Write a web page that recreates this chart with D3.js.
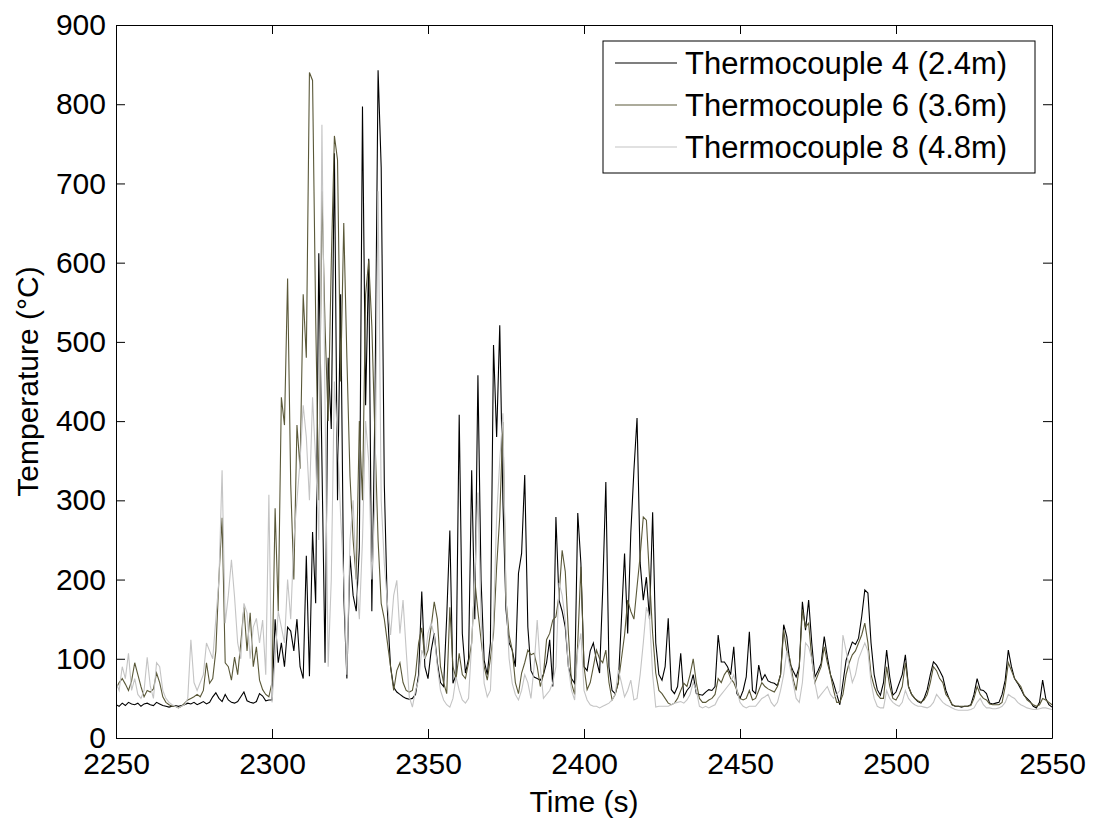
<!DOCTYPE html>
<html>
<head>
<meta charset="utf-8">
<script src="https://cdn.jsdelivr.net/npm/d3@7"></script>
<style>
  body { margin: 0; background: #fff; }
  text { font-family: Arial, "Liberation Sans", sans-serif; fill: #000; }
</style>
</head>
<body>
<script>
// sampled once per second from t0
var t0 = 2250;

var seriesNames = ["Thermocouple 4 (2.4m)", "Thermocouple 6 (3.6m)", "Thermocouple 8 (4.8m)"];
var seriesColors = ["#000000", "#5a5838", "#c4c4c4"];

var xTicks = [2250, 2300, 2350, 2400, 2450, 2500, 2550];
var yTicks = [0, 100, 200, 300, 400, 500, 600, 700, 800, 900];

var tc4 = [
  42,40,44,41,45,43,42,44,40,43,     // 2250
  44,42,41,45,43,41,40,39,40,41,     // 2260
  40,41,42,44,43,45,42,44,46,43,     // 2270
  45,52,57,50,46,55,48,45,44,46,     // 2280
  52,58,47,45,44,46,56,53,47,48,     // 2290
  48,150,95,120,90,140,135,110,150,90,   // 2300
  75,230,78,260,170,612,350,95,480,390,  // 2310
  738,300,560,180,75,230,180,160,240,797, // 2320
  420,605,160,420,843,720,320,160,90,64, // 2330
  58,55,52,50,49,50,55,80,185,90,    // 2340
  75,110,132,95,70,65,153,262,69,80, // 2350
  408,132,82,100,338,150,458,200,98,80, // 2360
  120,496,380,521,300,162,120,111,90,208, // 2370
  233,332,140,85,77,75,73,80,95,124, // 2380
  65,279,174,160,140,90,75,69,284,221, // 2390
  90,85,110,120,98,82,187,323,90,60, // 2400
  56,70,150,233,132,259,338,404,221,174, // 2410
  203,150,285,120,80,73,90,151,61,56, // 2420
  65,107,52,60,65,80,56,55,54,58,    // 2430
  61,60,65,130,96,96,90,80,115,56,   // 2440
  50,60,77,134,60,56,92,73,80,72,    // 2450
  70,69,66,80,143,128,94,85,77,90,   // 2460
  172,136,174,120,77,85,94,128,102,80, // 2470
  69,55,42,70,98,110,121,118,126,153, // 2480
  187,183,120,80,61,54,70,111,77,54, // 2490
  58,69,80,105,65,55,50,46,44,50,    // 2500
  61,80,96,92,85,77,60,50,42,40,     // 2510
  40,39,40,40,42,55,75,61,60,56,     // 2520
  44,43,44,45,55,73,111,90,75,69,    // 2530
  62,54,50,46,40,38,45,73,50,42,     // 2540
  39                                 // 2550
];

var tc6 = [
  62,70,75,68,60,72,95,80,65,52,     // 2250
  60,58,62,82,70,52,45,42,40,40,     // 2260
  38,40,44,48,50,52,55,52,60,95,     // 2270
  69,75,110,203,278,95,90,73,102,80, // 2280
  120,165,110,158,90,115,73,61,55,52, // 2290
  70,290,160,430,395,580,320,200,395,340, // 2300
  560,480,840,830,530,300,690,520,400,600, // 2310
  760,730,450,650,480,330,250,200,400,300, // 2320
  560,603,520,380,250,170,150,120,90,60, // 2330
  85,95,70,60,58,60,80,120,139,100,  // 2340
  111,140,172,150,90,70,56,165,90,75, // 2350
  107,80,75,95,120,199,160,124,90,73, // 2360
  100,132,216,280,399,174,130,111,70,56, // 2370
  82,95,111,105,107,90,65,80,124,132, // 2380
  149,153,180,237,210,132,69,55,120,216, // 2390
  90,61,70,90,111,100,95,111,70,48,  // 2400
  55,70,100,130,174,160,150,191,230,279, // 2410
  275,203,132,82,60,56,50,44,42,44,  // 2420
  50,60,69,65,80,100,70,50,45,45,    // 2430
  48,50,55,75,70,80,86,75,70,60,     // 2440
  50,48,50,60,48,50,60,70,65,62,     // 2450
  60,58,65,80,136,110,100,75,60,90,  // 2460
  162,140,145,100,70,80,90,115,95,80, // 2470
  60,45,45,55,80,95,105,110,120,130, // 2480
  145,120,80,65,55,50,50,90,65,50,   // 2490
  48,55,65,95,65,55,50,47,45,48,     // 2500
  55,70,90,85,75,70,55,50,42,40,     // 2510
  40,40,40,40,41,50,65,55,50,48,     // 2520
  43,42,42,42,45,65,95,85,75,70,     // 2530
  65,55,48,45,42,40,42,50,48,45,     // 2540
  42                                 // 2550
];

var tc8 = [
  70,60,90,75,107,60,75,55,50,60,    // 2250
  102,65,50,95,90,60,50,45,42,40,    // 2260
  38,40,42,50,124,70,60,70,80,120,   // 2270
  110,100,150,200,338,145,180,225,178,120, // 2280
  100,170,158,100,140,151,120,149,80,307, // 2290
  45,100,160,140,120,200,150,250,300,350, // 2300
  420,380,300,430,350,250,774,420,90,200, // 2310
  450,380,280,200,80,250,300,200,150,250, // 2320
  400,350,200,300,690,300,220,170,130,180, // 2330
  199,132,174,111,52,39,60,73,111,100, // 2340
  132,145,130,90,60,48,42,39,50,77,  // 2350
  60,48,44,50,120,199,310,150,69,52, // 2360
  60,150,279,350,410,180,100,69,55,48, // 2370
  60,80,70,50,90,149,90,50,55,60,    // 2380
  70,90,196,180,149,90,60,48,111,132, // 2390
  60,48,42,40,40,38,40,42,44,48,     // 2400
  55,86,70,52,60,73,48,50,80,120,    // 2410
  165,153,80,39,40,40,40,40,42,44,   // 2420
  45,46,44,48,55,70,60,40,38,40,     // 2430
  38,40,42,50,55,60,65,70,80,60,     // 2440
  45,40,38,40,40,40,45,50,52,55,     // 2450
  45,40,45,60,80,110,90,70,50,45,    // 2460
  70,120,115,100,70,50,55,60,65,55,  // 2470
  50,55,60,130,110,90,70,80,100,110, // 2480
  120,110,70,50,40,38,38,60,50,45,   // 2490
  42,40,45,60,50,45,42,40,40,39,     // 2500
  38,40,45,55,50,45,42,40,38,36,     // 2510
  35,35,35,35,36,38,45,50,42,38,     // 2520
  38,37,37,38,40,45,55,52,50,45,     // 2530
  42,40,38,37,36,36,37,38,38,37,     // 2540
  36                                 // 2550
];

var width = 1095, height = 821;
var margin = {top: 25, right: 43, bottom: 83, left: 116};
var fontSize = 30;

var svg = d3.select("body").append("svg")
    .attr("width", width)
    .attr("height", height);

svg.append("rect").attr("width", width).attr("height", height).attr("fill", "#fff");

var x = d3.scaleLinear()
    .domain([2250, 2550])
    .range([margin.left, width - margin.right]);

var y = d3.scaleLinear()
    .domain([0, 900])
    .range([height - margin.bottom, margin.top]);

svg.append("defs").append("clipPath").attr("id", "clip")
  .append("rect")
    .attr("x", margin.left)
    .attr("y", margin.top)
    .attr("width", x.range()[1] - x.range()[0])
    .attr("height", y.range()[0] - y.range()[1]);

var line = d3.line()
    .x((d, i) => x(t0 + i))
    .y(d => y(d));

// same order as the legend: later series drawn over earlier ones
var allSeries = [tc4, tc6, tc8];

svg.append("g")
    .attr("clip-path", "url(#clip)")
  .selectAll("path")
  .data(allSeries)
  .join("path")
    .attr("fill", "none")
    .attr("stroke", (d, i) => seriesColors[i])
    .attr("stroke-width", 1.1)
    .attr("d", d => line(d));

// axes box, ticks pointing inward on all sides
var tickLen = 9;
var xBottom = d3.axisBottom(x).tickValues(xTicks).tickFormat(d3.format("d"))
    .tickSize(-tickLen).tickPadding(15).tickSizeOuter(0);
var xTop = d3.axisTop(x).tickValues(xTicks).tickSize(-tickLen).tickFormat("").tickSizeOuter(0);
var yLeft = d3.axisLeft(y).tickValues(yTicks).tickSize(-tickLen).tickPadding(10).tickSizeOuter(0);
var yRight = d3.axisRight(y).tickValues(yTicks).tickSize(-tickLen).tickFormat("").tickSizeOuter(0);

function styleAxis(g) {
  g.selectAll("path").attr("stroke", "#000").attr("stroke-width", 1);
  g.selectAll("line").attr("stroke", "#000").attr("stroke-width", 1);
  g.selectAll("text")
    .style("font-family", "Arial, 'Liberation Sans', sans-serif")
    .style("font-size", fontSize + "px")
    .attr("fill", "#000");
}

svg.append("g")
    .attr("transform", `translate(0,${height - margin.bottom})`)
    .call(xBottom).call(styleAxis);
svg.append("g")
    .attr("transform", `translate(0,${margin.top})`)
    .call(xTop).call(styleAxis);
svg.append("g")
    .attr("transform", `translate(${margin.left},0)`)
    .call(yLeft).call(styleAxis);
svg.append("g")
    .attr("transform", `translate(${width - margin.right},0)`)
    .call(yRight).call(styleAxis);

svg.append("text")
    .attr("x", (x.range()[0] + x.range()[1]) / 2)
    .attr("y", 812)
    .attr("text-anchor", "middle")
    .style("font-size", fontSize + "px")
    .text("Time (s)");

svg.append("text")
    .attr("transform", "translate(38," + ((y.range()[0] + y.range()[1]) / 2) + ") rotate(-90)")
    .attr("text-anchor", "middle")
    .style("font-size", fontSize + "px")
    .text("Temperature (\u00B0C)");

// legend
var legend = svg.append("g").attr("transform", "translate(603,41)");

legend.append("rect")
    .attr("width", 432)
    .attr("height", 132)
    .attr("fill", "#fff")
    .attr("stroke", "#000")
    .attr("stroke-width", 1);

var item = legend.selectAll("g.item")
  .data(seriesNames)
  .join("g")
    .attr("class", "item")
    .attr("transform", (d, i) => `translate(0,${22 + i * 42})`);

item.append("line")
    .attr("x1", 12)
    .attr("x2", 74)
    .attr("stroke", (d, i) => seriesColors[i])
    .attr("stroke-width", 1.2);

item.append("text")
    .attr("x", 82)
    .attr("dy", "0.35em")
    .style("font-size", "31px")
    .text(d => d);
</script>
</body>
</html>
